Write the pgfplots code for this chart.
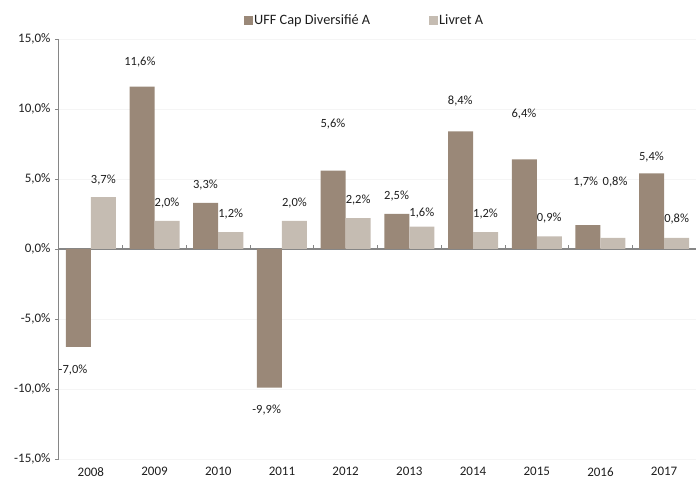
\documentclass[border=0pt]{standalone}
\usepackage{pgfplots}
\pgfplotsset{compat=1.18}
\usepackage{pgfplotstable}
\usepackage{fontspec}
\setmainfont{Carlito}
\definecolor{darkb}{HTML}{9A8878}
\definecolor{lightb}{HTML}{C5BCB2}
\definecolor{axgray}{HTML}{868686}
\definecolor{txt}{HTML}{1E1E1E}

\pgfplotstableread{
x y
0 -7.0
1 11.6
2 3.3
3 -9.9
4 5.6
5 2.5
6 8.4
7 6.4
8 1.7
9 5.4
}\uff
\pgfplotstableread{
x y
0 3.7
1 2.0
2 1.2
3 2.0
4 2.2
5 1.6
6 1.2
7 0.9
8 0.8
9 0.8
}\livret
% label positions
\pgfplotstableread{
x y v
-0.28 -8.63 -7.0
0.77 13.38 11.6
1.80 4.6 3.3
2.76 -11.5 -9.9
3.80 8.9 5.6
4.80 3.8 2.5
5.80 10.58 8.4
6.80 9.64 6.4
7.77 4.75 1.7
8.80 6.6 5.4
}\uffl
\pgfplotstableread{
x y v
0.196 4.96 3.7
1.196 3.3 2.0
2.196 2.5 1.2
3.196 3.3 2.0
4.196 3.5 2.2
5.196 2.6 1.6
6.196 2.5 1.2
7.196 2.2 0.9
8.23 4.75 0.8
9.196 2.16 0.8
}\livretl

\begin{document}
\begin{tikzpicture}
\path[use as bounding box] (0,0) rectangle (696pt,479pt);
\begin{axis}[
  at={(59pt,20pt)}, anchor=south west,
  scale only axis, width=637pt, height=420pt,
  xmin=-0.5, xmax=9.5, ymin=-15, ymax=15,
  axis y line=left, axis x line=bottom,
  x axis line style={draw=none},
  axis line style={-, axgray, line width=1pt},
  xtick={0,...,9},
  xticklabels={2008,2009,2010,2011,2012,2013,2014,2015,2016,2017},
  xtick style={draw=none},
  ytick={-15,-10,...,15},
  ytick style={axgray, line width=0.8pt},
  tick align=outside, major tick length=4pt,
  ymajorgrids, grid style={draw=gray!8},
  extra y ticks={0}, extra y tick labels={},
  extra y tick style={grid=major, major grid style={axgray, line width=1.2pt}, ytick style={draw=none}},
  yticklabel={\pgfmathprintnumber[fixed,fixed zerofill,precision=1,use comma]{\tick}\%},
  /pgf/number format/assume math mode=true,
  ticklabel style={font=\fontsize{13}{15}\selectfont, text=txt},
  yticklabel style={xshift=-1pt},
  xticklabel style={yshift=-1pt},
  legend style={at={(0.479,1.045)}, anchor=center, draw=none, fill=none,
    legend columns=2, font=\fontsize{14.3}{16}\selectfont, text=txt,
    /tikz/every even column/.append style={column sep=58pt},
    nodes={inner sep=1pt}},
  legend image code/.code={\fill (0pt,-4.5pt) rectangle (9pt,4.5pt);},
  nodes near coords style={font=\fontsize{12.5}{14}\selectfont, text=txt},
  clip=false,
]
\addplot[ybar, bar width=25pt, bar shift=-12.5pt, fill=darkb, draw=none] table[x=x,y=y] {\uff};
\addlegendentry{UFF Cap Diversifié A}
\addplot[ybar, bar width=25pt, bar shift=12.5pt, fill=lightb, draw=none] table[x=x,y=y] {\livret};
\addlegendentry{Livret A}
\addplot[draw=none, mark=none, forget plot, point meta=explicit,
  nodes near coords={\pgfmathprintnumber[fixed,fixed zerofill,precision=1,use comma]{\pgfplotspointmeta}\%},
  nodes near coords align=center] table[x=x,y=y,meta=v] {\uffl};
\addplot[draw=none, mark=none, forget plot, point meta=explicit,
  nodes near coords={\pgfmathprintnumber[fixed,fixed zerofill,precision=1,use comma]{\pgfplotspointmeta}\%},
  nodes near coords align=center] table[x=x,y=y,meta=v] {\livretl};
\foreach \k in {0.5,1.5,...,8.5} {
  \edef\tmp{\noexpand\draw[axgray, line width=0.8pt] (axis cs:\k,0) -- ++(0pt,4pt);}\tmp
}
\end{axis}
\end{tikzpicture}
\end{document}
